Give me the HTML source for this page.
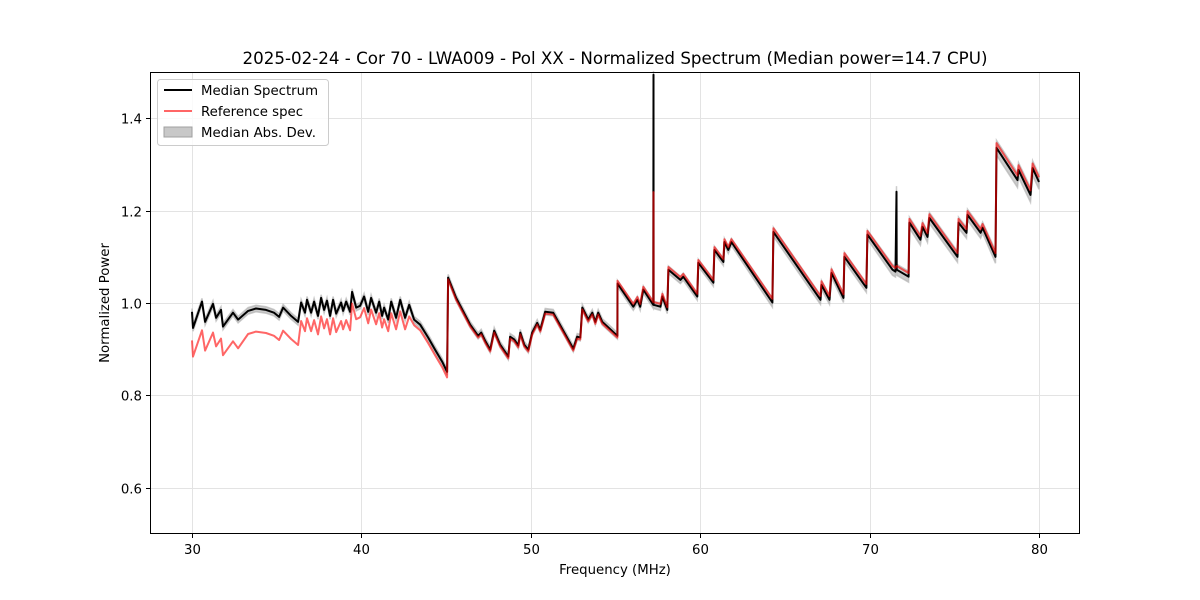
<!DOCTYPE html>
<html><head><meta charset="utf-8"><style>
html,body{margin:0;padding:0;background:#fff;}
svg{display:block;font-family:"DejaVu Sans","Liberation Sans",sans-serif;}
</style></head><body>
<svg id="chart" width="1200" height="600" viewBox="0 0 1200 600" xmlns="http://www.w3.org/2000/svg">
<rect x="0" y="0" width="1200" height="600" fill="#fff"/>
<g id="grid"></g>
<g id="series"></g>
<rect x="150.5" y="72.5" width="929" height="461" fill="none" stroke="#000" stroke-width="1"/>
<g id="ticks"></g>
<text x="615" y="64" text-anchor="middle" font-size="16.7">2025-02-24 - Cor 70 - LWA009 - Pol XX - Normalized Spectrum (Median power=14.7 CPU)</text>
<text x="615" y="574" text-anchor="middle" font-size="13.3">Frequency (MHz)</text>
<text transform="translate(109,303) rotate(-90)" text-anchor="middle" font-size="13.3">Normalized Power</text>
<g>
<rect x="157.5" y="79.5" width="171" height="66" rx="3" fill="#fff" fill-opacity="0.8" stroke="#ccc"/>
<g><line x1="164" y1="90" x2="192" y2="90" stroke="#000" stroke-width="2"/><text x="201" y="95" font-size="13.3">Median Spectrum</text></g>
<g><line x1="164" y1="111" x2="192" y2="111" stroke="#ff6666" stroke-width="2"/><text x="201" y="116" font-size="13.3">Reference spec</text></g>
<g><rect x="164" y="127" width="28" height="10" fill="#c8c8c8" stroke="#a0a0a0"/><text x="201" y="137" font-size="13.3">Median Abs. Dev.</text></g>
</g>
</svg>
<script>
const freqs=[30.00,30.06,30.59,30.77,31.24,31.42,31.71,31.83,32.42,32.72,
33.31,33.78,34.37,34.84,35.14,35.38,35.85,36.26,36.44,36.67,
36.79,37.03,37.21,37.44,37.62,37.80,37.97,38.15,38.33,38.51,
38.80,38.92,39.10,39.33,39.45,39.69,39.92,40.16,40.40,40.57,
40.87,41.05,41.22,41.34,41.58,41.76,42.05,42.29,42.58,42.82,
43.11,43.47,43.94,44.35,44.77,45.06,45.12,45.59,46.42,46.89,
47.07,47.31,47.60,47.84,48.19,48.67,48.78,49.02,49.26,49.38,
49.61,49.85,50.08,50.38,50.56,50.85,51.32,52.51,52.74,52.92,
53.04,53.39,53.63,53.81,53.98,54.22,55.11,55.12,56.05,56.29,
56.46,56.64,57.23,57.24,57.25,57.65,57.77,58.06,58.12,58.83,
59.00,59.83,59.89,60.78,60.84,61.37,61.43,61.66,61.84,64.26,
64.32,67.10,67.16,67.63,67.75,68.46,68.51,69.81,69.87,71.35,
71.53,71.59,71.60,72.30,72.35,73.00,73.12,73.42,73.53,75.19,
75.25,75.72,75.78,76.55,76.67,77.43,77.49,78.73,78.79,79.50,
79.62,80.00];
const medianValues=[0.981,0.946,1.003,0.959,0.998,0.968,0.985,0.949,0.979,0.964,
0.983,0.988,0.985,0.979,0.970,0.990,0.972,0.959,1.001,0.979,
1.007,0.979,1.003,0.972,1.011,0.985,1.005,0.972,1.007,0.977,
1.001,0.983,1.003,0.981,1.024,0.990,0.994,1.014,0.981,1.011,
0.979,1.003,0.972,0.990,0.964,1.003,0.968,1.007,0.968,0.996,
0.964,0.953,0.925,0.899,0.873,0.851,1.055,1.011,0.953,0.929,
0.936,0.918,0.899,0.940,0.910,0.884,0.927,0.921,0.908,0.936,
0.910,0.899,0.936,0.957,0.942,0.981,0.979,0.901,0.927,0.925,
0.990,0.964,0.979,0.959,0.979,0.959,0.929,1.042,0.992,1.007,
0.992,1.029,0.996,1.494,0.996,0.992,1.014,0.985,1.072,1.050,
1.057,1.014,1.087,1.044,1.115,1.089,1.132,1.115,1.132,1.001,
1.154,1.007,1.039,1.007,1.065,1.011,1.100,1.033,1.148,1.072,
1.068,1.241,1.072,1.057,1.174,1.137,1.165,1.143,1.184,1.100,
1.174,1.152,1.191,1.152,1.163,1.100,1.336,1.266,1.288,1.234,
1.292,1.262];
const refValues=[0.919,0.884,0.941,0.897,0.936,0.906,0.923,0.887,0.917,0.902,
0.933,0.938,0.935,0.929,0.920,0.940,0.922,0.909,0.961,0.939,
0.967,0.939,0.963,0.932,0.971,0.945,0.965,0.932,0.967,0.937,
0.961,0.943,0.963,0.941,0.999,0.965,0.969,0.989,0.956,0.986,
0.954,0.978,0.947,0.965,0.939,0.978,0.943,0.982,0.943,0.971,
0.952,0.941,0.913,0.887,0.861,0.839,1.051,1.007,0.949,0.925,
0.932,0.914,0.895,0.936,0.906,0.880,0.923,0.917,0.904,0.932,
0.906,0.895,0.932,0.953,0.938,0.977,0.975,0.897,0.923,0.921,
0.986,0.960,0.975,0.955,0.975,0.955,0.925,1.048,0.998,1.013,
0.998,1.035,1.002,1.240,1.002,0.998,1.020,0.991,1.078,1.056,
1.063,1.020,1.093,1.050,1.121,1.095,1.138,1.121,1.138,1.009,
1.162,1.015,1.047,1.015,1.073,1.019,1.108,1.041,1.156,1.080,
1.076,1.080,1.080,1.065,1.182,1.145,1.173,1.151,1.192,1.108,
1.182,1.160,1.199,1.160,1.171,1.108,1.346,1.276,1.298,1.244,
1.302,1.272];
const madValues=[0.007,0.007,0.007,0.007,0.007,0.007,0.007,0.007,0.007,0.007,
0.007,0.007,0.007,0.007,0.007,0.007,0.007,0.007,0.007,0.007,
0.007,0.007,0.007,0.007,0.007,0.007,0.007,0.007,0.007,0.007,
0.007,0.007,0.007,0.007,0.007,0.007,0.007,0.007,0.007,0.007,
0.007,0.007,0.007,0.007,0.007,0.007,0.007,0.007,0.007,0.007,
0.007,0.007,0.007,0.007,0.007,0.007,0.007,0.007,0.007,0.007,
0.007,0.007,0.007,0.007,0.007,0.007,0.007,0.007,0.007,0.007,
0.007,0.007,0.007,0.007,0.007,0.007,0.007,0.007,0.007,0.007,
0.007,0.007,0.007,0.007,0.007,0.007,0.007,0.007,0.008,0.008,
0.008,0.008,0.008,0.008,0.008,0.008,0.008,0.008,0.008,0.008,
0.008,0.008,0.008,0.008,0.008,0.008,0.008,0.008,0.008,0.010,
0.010,0.010,0.010,0.010,0.010,0.010,0.010,0.010,0.010,0.012,
0.012,0.012,0.012,0.012,0.012,0.012,0.012,0.012,0.012,0.012,
0.012,0.012,0.012,0.012,0.012,0.014,0.016,0.016,0.016,0.016,
0.016,0.016];
const xTicks=[30,40,50,60,70,80];
const yTicks=[0.6,0.8,1.0,1.2,1.4];
const yTickLabels=["0.6","0.8","1.0","1.2","1.4"];

const X0=150,X1=1080,Y0=72,Y1=534,XMIN=27.52,XMAX=82.42,YMIN=0.5,YMAX=1.5;
function sx(f){return X0+(f-XMIN)/(XMAX-XMIN)*(X1-X0);}
function sy(v){return Y1-(v-YMIN)/(YMAX-YMIN)*(Y1-Y0);}
const NS='http://www.w3.org/2000/svg';
function mk(tag,attrs,parent){const e=document.createElementNS(NS,tag);for(const k in attrs)e.setAttribute(k,attrs[k]);parent.appendChild(e);return e;}
const grid=document.getElementById('grid'),ticks=document.getElementById('ticks'),series=document.getElementById('series');
xTicks.forEach(t=>{const x=Math.round(sx(t))+0.5;
 const g=mk('line',{x1:x,x2:x,y1:Y0,y2:Y1,stroke:'#e3e3e3','stroke-width':1},grid);
 
 
 const tk=mk('line',{x1:x,x2:x,y1:Y1,y2:Y1+4,stroke:'#000'},ticks);
 
 
 const tl=mk('text',{x:x,y:Y1+20,'text-anchor':'middle','font-size':13.3},ticks);tl.textContent=String(t);
 
 });
yTicks.forEach((t,i)=>{const y=Math.round(sy(t))+0.5;
 const g=mk('line',{x1:X0,x2:X1,y1:y,y2:y,stroke:'#e3e3e3','stroke-width':1},grid);
 
 
 const tk=mk('line',{x1:X0-4,x2:X0,y1:y,y2:y,stroke:'#000'},ticks);
 
 
 const tl=mk('text',{x:X0-8,y:y+5,'text-anchor':'end','font-size':13.3},ticks);tl.textContent=yTickLabels[i];
 
 });
let up='',dn='';
freqs.forEach((f,i)=>{up+=(i?'L':'M')+sx(f).toFixed(1)+','+sy(medianValues[i]+madValues[i]).toFixed(1);});
for(let i=freqs.length-1;i>=0;i--){dn+='L'+sx(freqs[i]).toFixed(1)+','+sy(medianValues[i]-madValues[i]).toFixed(1);}
const band=mk('path',{d:up+dn+'Z',fill:'#b0b0b0','fill-opacity':0.65,stroke:'#b0b0b0','stroke-opacity':0.65,'stroke-width':1.5},series);


function linePath(vals){return freqs.map((f,i)=>(i?'L':'M')+sx(f).toFixed(1)+','+sy(vals[i]).toFixed(1)).join('');}
const med=mk('path',{d:linePath(medianValues),fill:'none',stroke:'#000','stroke-width':2,'stroke-linejoin':'round'},series);


const ref=mk('path',{d:linePath(refValues),fill:'none',stroke:'#ff0000','stroke-opacity':0.6,'stroke-width':2,'stroke-linejoin':'round'},series);


</script>
</body></html>
